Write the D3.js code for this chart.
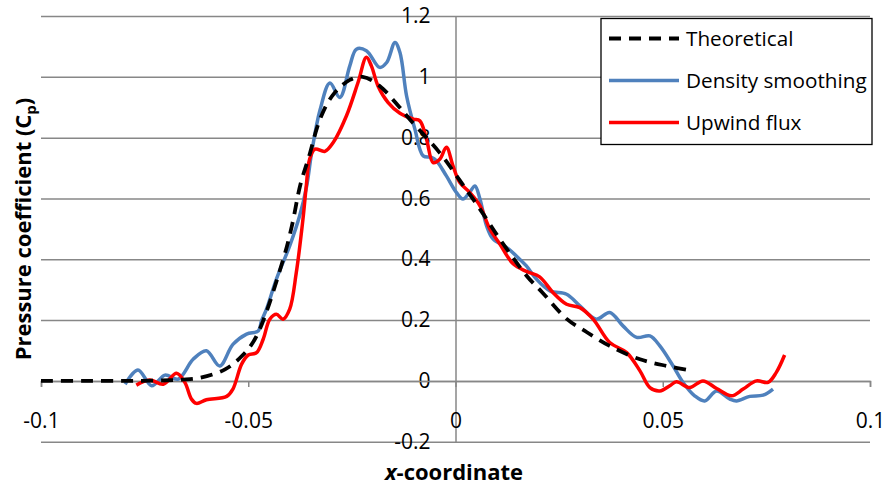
<!DOCTYPE html>
<html>
<head>
<meta charset="utf-8">
<script src="https://cdn.jsdelivr.net/npm/d3@7"></script>
<style>
  body { margin: 0; background: #fff; }
  text { font-family: "Open Sans", sans-serif; fill: #000; }
</style>
</head>
<body>
<div id="chart"></div>
<script>
// Tick labels
let xTicks = [-0.1, -0.05, 0, 0.05, 0.1];
let yTicks = [-0.2, 0, 0.2, 0.4, 0.6, 0.8, 1, 1.2];

// Series: [x, Cp]
let theoretical = [
  [-0.1, 0], [-0.09, 0], [-0.08, 0], [-0.072, 0.001], [-0.066, 0.004], [-0.0617, 0.01],
  [-0.0556, 0.038], [-0.0513, 0.085], [-0.048, 0.147], [-0.0415, 0.403],
  [-0.0395, 0.508], [-0.0374, 0.647], [-0.0354, 0.735], [-0.0327, 0.86],
  [-0.0296, 0.94], [-0.0255, 0.99], [-0.0224, 1.0], [-0.0183, 0.97],
  [-0.0135, 0.9], [-0.011, 0.86], [-0.0038, 0.75], [0.001, 0.66],
  [0.0059, 0.565], [0.0107, 0.466], [0.0172, 0.345], [0.021, 0.29],
  [0.0269, 0.203], [0.0317, 0.16], [0.0372, 0.115], [0.0445, 0.071],
  [0.051, 0.049], [0.0573, 0.033]
];

let densitySmoothing = [
  [-0.0797, -0.011], [-0.0766, 0.036], [-0.0733, -0.016], [-0.0701, 0.019],
  [-0.0669, 0.006], [-0.0633, 0.071], [-0.0601, 0.099], [-0.0569, 0.049],
  [-0.0537, 0.12], [-0.0504, 0.154], [-0.0476, 0.164], [-0.0468, 0.197],
  [-0.0456, 0.236], [-0.0432, 0.335], [-0.04, 0.444], [-0.0376, 0.543],
  [-0.0359, 0.641], [-0.0347, 0.751], [-0.0327, 0.89], [-0.0303, 0.98],
  [-0.0279, 0.932], [-0.0255, 1.036], [-0.0239, 1.091], [-0.0215, 1.086],
  [-0.0183, 1.031], [-0.0166, 1.047], [-0.0146, 1.113], [-0.0134, 1.08],
  [-0.0118, 0.937], [-0.0098, 0.828], [-0.0078, 0.74], [-0.0058, 0.735],
  [-0.0046, 0.724], [-0.0022, 0.674], [0.0002, 0.62], [0.0018, 0.598],
  [0.0034, 0.62], [0.0047, 0.641], [0.0059, 0.598], [0.0075, 0.51],
  [0.0091, 0.466], [0.0123, 0.439], [0.0155, 0.4], [0.0171, 0.378],
  [0.0195, 0.335], [0.0228, 0.296], [0.0268, 0.285], [0.03, 0.247],
  [0.034, 0.203], [0.0372, 0.225], [0.0404, 0.181], [0.0437, 0.143],
  [0.0469, 0.148], [0.0493, 0.115], [0.0525, 0.049], [0.0549, -0.005],
  [0.0577, -0.049], [0.0601, -0.066], [0.063, -0.033], [0.0662, -0.06],
  [0.0678, -0.066], [0.071, -0.051], [0.0742, -0.047], [0.0766, -0.027]
];

let upwindFlux = [
  [-0.077, -0.014], [-0.0738, 0.003], [-0.0705, -0.011], [-0.0673, 0.025],
  [-0.0653, -0.005], [-0.0637, -0.06], [-0.0625, -0.074], [-0.0601, -0.062],
  [-0.0552, -0.051], [-0.0537, -0.027], [-0.0516, 0.055], [-0.05, 0.085],
  [-0.048, 0.093], [-0.0464, 0.137], [-0.0448, 0.203], [-0.0432, 0.219],
  [-0.0416, 0.203], [-0.04, 0.236], [-0.0384, 0.357], [-0.0368, 0.532],
  [-0.036, 0.641], [-0.0352, 0.729], [-0.0339, 0.762], [-0.0315, 0.755],
  [-0.0295, 0.784], [-0.0263, 0.872], [-0.0235, 0.982], [-0.0215, 1.064],
  [-0.0203, 1.036], [-0.0187, 0.97], [-0.0163, 0.916], [-0.0134, 0.88],
  [-0.0102, 0.861], [-0.0086, 0.855], [-0.007, 0.795], [-0.0054, 0.718],
  [-0.0038, 0.729], [-0.0022, 0.768], [-0.0006, 0.707], [0.001, 0.653],
  [0.0034, 0.62], [0.0059, 0.576], [0.0083, 0.499], [0.0107, 0.45],
  [0.0139, 0.385], [0.0171, 0.36], [0.0203, 0.342], [0.0235, 0.291],
  [0.0268, 0.252], [0.03, 0.241], [0.0332, 0.203], [0.0372, 0.126],
  [0.0413, 0.093], [0.0445, 0.033], [0.0469, -0.022], [0.0493, -0.033],
  [0.0517, -0.016], [0.0533, -0.003], [0.0565, -0.022], [0.0597, 0],
  [0.063, -0.025], [0.0666, -0.049], [0.0694, -0.027], [0.0726, 0],
  [0.0754, -0.005], [0.0774, 0.028], [0.0794, 0.085]
];

let seriesNames = ['Theoretical', 'Density smoothing', 'Upwind flux'];
let seriesColors = ['#000000', '#4F81BD', '#FF0000'];

// Dimensions
let W = 887, H = 486;
let plot = { left: 41, right: 870, top: 16, bottom: 441.7 };

// Scales
let x = d3.scaleLinear().domain([-0.1, 0.1]).range([plot.left, plot.right]);
let y = d3.scaleLinear().domain([-0.2, 1.2]).range([plot.bottom, plot.top]);

let svg = d3.select('#chart')
  .append('svg')
  .attr('width', W)
  .attr('height', H);

let grid = '#878787';

// Horizontal gridlines
svg.append('g')
  .attr('class', 'grid')
  .attr('transform', `translate(${plot.left},0)`)
  .call(d3.axisRight(y).tickValues(yTicks).tickSize(plot.right - plot.left).tickFormat(''))
  .call(g => g.select('.domain').remove())
  .call(g => g.selectAll('line').attr('stroke', grid).attr('stroke-width', 1.5));

// Y axis at x = 0
svg.append('g')
  .attr('class', 'y axis')
  .attr('transform', `translate(${x(0)},0)`)
  .call(d3.axisLeft(y).tickValues(yTicks).tickSize(0).tickPadding(25).tickFormat(d => String(d)))
  .call(g => g.select('.domain').attr('stroke', grid).attr('stroke-width', 1.5))
  .call(g => g.selectAll('text').attr('font-size', 21).attr('font-family', '"Open Sans", sans-serif'));

// X axis at y = 0
svg.append('g')
  .attr('class', 'x axis')
  .attr('transform', `translate(0,${y(0)})`)
  .call(d3.axisBottom(x).tickValues(xTicks).tickSize(6).tickFormat(d => String(d)))
  .call(g => g.select('.domain').attr('stroke', grid).attr('stroke-width', 1.5))
  .call(g => g.selectAll('line').attr('stroke', grid).attr('stroke-width', 1.5))
  .call(g => g.selectAll('text')
    .attr('y', 40).attr('dy', '0.35em')
    .attr('font-size', 21).attr('font-family', '"Open Sans", sans-serif'));

// Lines
let line = d3.line()
  .x(d => x(d[0]))
  .y(d => y(d[1]))
  .curve(d3.curveCatmullRom.alpha(0.5));

svg.append('path')
  .datum(densitySmoothing)
  .attr('fill', 'none')
  .attr('stroke', seriesColors[1])
  .attr('stroke-width', 3.5)
  .attr('d', line);

svg.append('path')
  .datum(upwindFlux)
  .attr('fill', 'none')
  .attr('stroke', seriesColors[2])
  .attr('stroke-width', 3.5)
  .attr('d', line);

svg.append('path')
  .datum(theoretical)
  .attr('fill', 'none')
  .attr('stroke', seriesColors[0])
  .attr('stroke-width', 3.8)
  .attr('stroke-dasharray', '12,8')
  .attr('d', line);

// Legend
let legend = svg.append('g').attr('class', 'legend');
legend.append('rect')
  .attr('x', 601).attr('y', 18.5)
  .attr('width', 271).attr('height', 126)
  .attr('fill', '#fff')
  .attr('stroke', '#000')
  .attr('stroke-width', 1.3);

seriesNames.forEach((name, i) => {
  let ly = 38.5 + i * 42;
  legend.append('line')
    .attr('x1', 609).attr('x2', 679)
    .attr('y1', ly).attr('y2', ly)
    .attr('stroke', seriesColors[i])
    .attr('stroke-width', i === 0 ? 3.8 : 3.5)
    .attr('stroke-dasharray', i === 0 ? '12,8' : null);
  legend.append('text')
    .attr('x', 686).attr('y', ly)
    .attr('dy', '0.35em')
    .attr('font-size', 20.7)
    .text(name);
});

// Labels
svg.append('text')
  .attr('class', 'x label')
  .attr('x', 454)
  .attr('y', 480)
  .attr('text-anchor', 'middle')
  .attr('font-size', 22)
  .attr('font-weight', 'bold')
  .call(t => t.append('tspan').attr('font-style', 'italic').text('x'))
  .call(t => t.append('tspan').text('-coordinate'));

svg.append('text')
  .attr('class', 'y label')
  .attr('transform', 'translate(31,229) rotate(-90)')
  .attr('text-anchor', 'middle')
  .attr('font-size', 22)
  .attr('font-weight', 'bold')
  .call(t => t.append('tspan').text('Pressure coefficient (C'))
  .call(t => t.append('tspan').attr('font-size', 15).attr('dy', 5).text('p'))
  .call(t => t.append('tspan').attr('dy', -5).text(')'));
</script>
</body>
</html>
